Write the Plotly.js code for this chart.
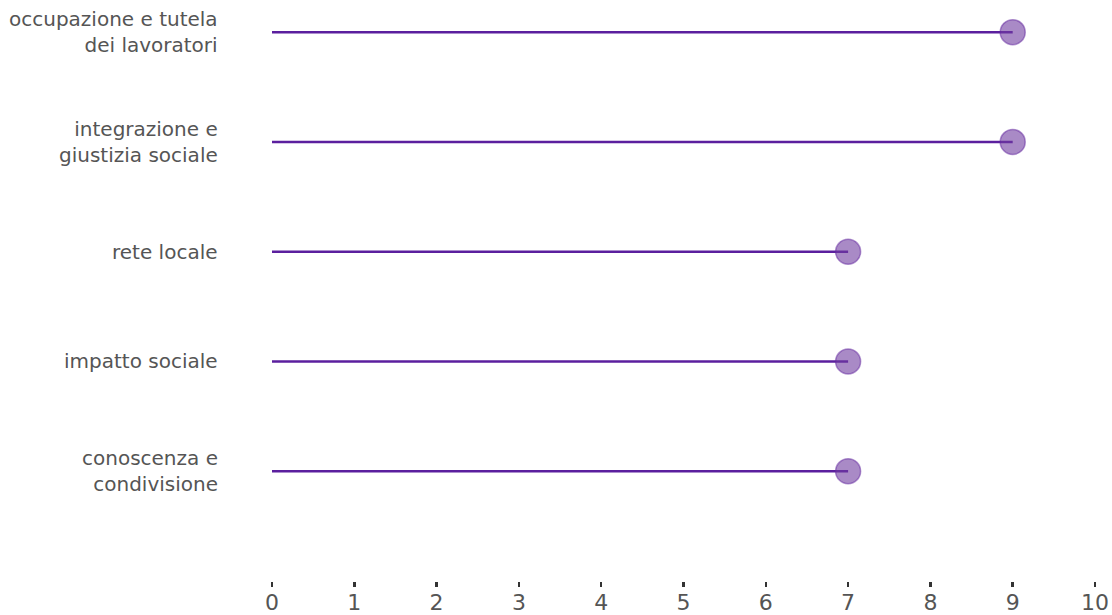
<!DOCTYPE html>
<html>
<head>
<meta charset="utf-8">
<script src="https://cdn.plot.ly/plotly-3.0.1.min.js"></script>
<style>html,body{margin:0;padding:0;background:#fff;}#chart{width:1112px;height:615px;}</style>
</head>
<body>
<div id="chart"></div>
<script>
const categories = [
  "conoscenza e<br>condivisione",
  "impatto sociale",
  "rete locale",
  "integrazione e<br>giustizia sociale",
  "occupazione e tutela<br>dei lavoratori"
];
const values = [7, 7, 7, 9, 9];
const xTicks = [0, 1, 2, 3, 4, 5, 6, 7, 8, 9, 10];

const idx = categories.map((_, i) => i);
const lx = [], ly = [];
values.forEach((v, i) => { lx.push(0, v, null); ly.push(i, i, null); });

const traces = [
  {
    type: 'scatter', mode: 'lines', x: lx, y: ly,
    line: {color: '#5b1f9e', width: 2.5}, hoverinfo: 'skip'
  },
  {
    type: 'scatter', mode: 'markers', x: values, y: idx,
    marker: {size: 25, color: 'rgba(112,60,160,0.6)', line: {color: 'rgba(100,40,160,0.5)', width: 1.5}},
    cliponaxis: false
  }
];

const annotations = categories.map((c, i) => ({
  xref: 'paper', yref: 'y', x: 0, y: i, text: c,
  xanchor: 'right', yanchor: 'middle', align: 'right', xshift: -52,
  showarrow: false, font: {size: 20, color: '#555', family: 'DejaVu Sans'}
}));

const layout = {
  width: 1112, height: 615,
  margin: {l: 272, r: 17, t: 30, b: 34},
  paper_bgcolor: '#fff', plot_bgcolor: '#fff',
  showlegend: false,
  font: {family: 'DejaVu Sans', color: '#555'},
  annotations: annotations,
  xaxis: {
    range: [0, 10], tickvals: xTicks, ticktext: xTicks.map(String),
    showgrid: false, zeroline: false, showline: false,
    ticks: 'outside', ticklen: 5, tickwidth: 2.5, tickcolor: '#333',
    ticklabelstandoff: -3,
    tickfont: {size: 22, color: '#555'}, fixedrange: true
  },
  yaxis: {
    range: [-1, 4.02], tickvals: idx, showticklabels: false,
    showgrid: false, zeroline: false, showline: false,
    ticks: '', fixedrange: true
  }
};

Plotly.newPlot('chart', traces, layout, {displayModeBar: false, staticPlot: true});
</script>
</body>
</html>
